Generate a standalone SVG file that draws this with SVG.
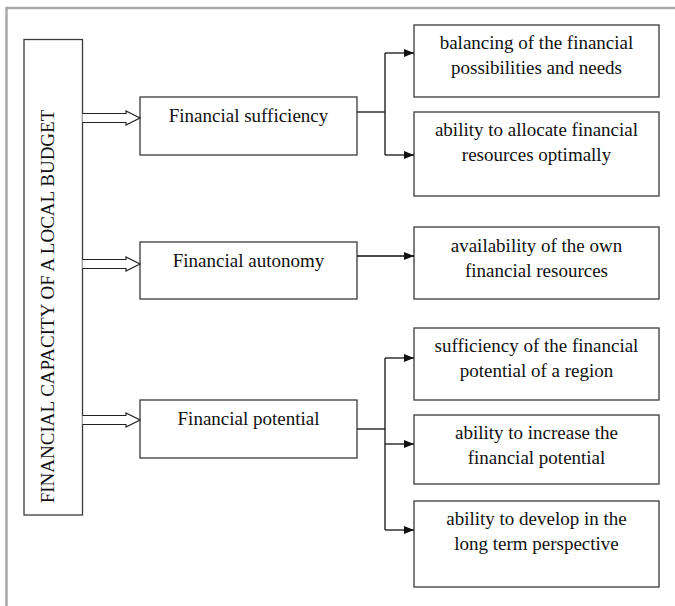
<svg xmlns="http://www.w3.org/2000/svg" width="675" height="606" viewBox="0 0 675 606">
<defs>
<style>
.box{fill:#fff;stroke:#3a3a3a;stroke-width:1.3}
.t{font-family:"Liberation Serif","Times New Roman",serif;font-size:19px;fill:#111;text-anchor:middle}
.ln{fill:none;stroke:#111;stroke-width:1.3}
.ha{fill:#fff;stroke:#222;stroke-width:1.2}
</style>
<marker id="ah" viewBox="0 0 10 8" refX="10" refY="4" markerWidth="10" markerHeight="8" markerUnits="userSpaceOnUse" orient="auto">
<path d="M0,0 L10,4 L0,8 Z" fill="#111"/>
</marker>
</defs>
<rect width="675" height="606" fill="#fff"/>
<path d="M6.5,606 L6.5,8 L675,8" fill="none" stroke="#a9a9a9" stroke-width="2.5"/>

<g id="root">
<rect class="box" x="24" y="39.5" width="58.5" height="475.5"/>
<text class="t" transform="translate(54,306.5) rotate(-90)">FINANCIAL CAPACITY OF A LOCAL BUDGET</text>
</g>

<g id="suff">
<rect class="box" x="140" y="97" width="217" height="58"/>
<text class="t" x="248.5" y="121.5">Financial sufficiency</text>
</g>
<g id="auto">
<rect class="box" x="140" y="242" width="217" height="57"/>
<text class="t" x="248.5" y="266.5">Financial autonomy</text>
</g>
<g id="pot">
<rect class="box" x="140" y="400" width="217" height="58"/>
<text class="t" x="248.5" y="424.5">Financial potential</text>
</g>

<g id="b1">
<rect class="box" x="414" y="25" width="245" height="72"/>
<text class="t" x="536.5" y="49">balancing of the financial</text>
<text class="t" x="536.5" y="74">possibilities and needs</text>
</g>
<g id="b2">
<rect class="box" x="414" y="112" width="245" height="84"/>
<text class="t" x="536.5" y="136">ability to allocate financial</text>
<text class="t" x="536.5" y="161">resources optimally</text>
</g>
<g id="b3">
<rect class="box" x="414" y="227" width="245" height="72"/>
<text class="t" x="536.5" y="251.5">availability of the own</text>
<text class="t" x="536.5" y="276.5">financial resources</text>
</g>
<g id="b4">
<rect class="box" x="414" y="328" width="245" height="72"/>
<text class="t" x="536.5" y="352">sufficiency of the financial</text>
<text class="t" x="536.5" y="377">potential of a region</text>
</g>
<g id="b5">
<rect class="box" x="414" y="415" width="245" height="69"/>
<text class="t" x="536.5" y="438.5">ability to increase the</text>
<text class="t" x="536.5" y="463.5">financial potential</text>
</g>
<g id="b6">
<rect class="box" x="414" y="501" width="245" height="86"/>
<text class="t" x="536.5" y="525">ability to develop in the</text>
<text class="t" x="536.5" y="550">long term perspective</text>
</g>

<g id="connectors">
<path class="ha" d="M82.5,113.5 L126,113.5 L126,111 L140,118 L126,125 L126,122.5 L82.5,122.5"/>
<path class="ha" d="M82.5,259.5 L126,259.5 L126,257 L140,264 L126,271 L126,268.5 L82.5,268.5"/>
<path class="ha" d="M82.5,415.5 L126,415.5 L126,413 L140,420 L126,427 L126,424.5 L82.5,424.5"/>

<path class="ln" d="M357,112 L385,112"/>
<path class="ln" d="M385,53 L385,155"/>
<path class="ln" d="M385,53 L414,53" marker-end="url(#ah)"/>
<path class="ln" d="M385,155 L414,155" marker-end="url(#ah)"/>

<path class="ln" d="M357,256 L414,256" marker-end="url(#ah)"/>

<path class="ln" d="M357,429 L385,429"/>
<path class="ln" d="M385,358 L385,530"/>
<path class="ln" d="M385,358 L414,358" marker-end="url(#ah)"/>
<path class="ln" d="M385,444 L414,444" marker-end="url(#ah)"/>
<path class="ln" d="M385,530 L414,530" marker-end="url(#ah)"/>
</g>
</svg>
